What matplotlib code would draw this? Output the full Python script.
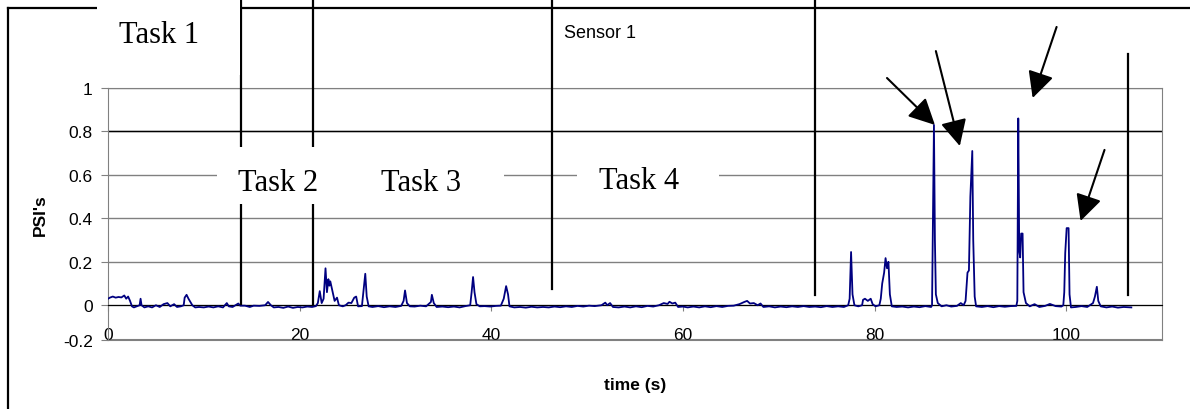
# Sensor 1 pressure trace with task markers
import matplotlib
matplotlib.use("Agg")
import matplotlib.pyplot as plt
from matplotlib.lines import Line2D
from matplotlib.patches import Rectangle

plt.rcParams['font.family'] = ['Liberation Sans', 'DejaVu Sans']
plt.rcParams['axes.unicode_minus'] = False

# trace (time in s, pressure in PSI)
time_s = [0, 0.2, 0.5, 0.8, 1.1, 1.4, 1.7, 1.9, 2.1, 2.3, 2.5, 2.7,
          3.0, 3.3, 3.4, 3.5, 3.8, 4.2, 4.6, 5.0, 5.4, 5.8, 6.2, 6.5, 6.9, 7.2, 7.6, 7.9,
          8.0, 8.2, 8.4, 8.6, 8.8, 9.1, 9.5, 10.0, 10.5, 11.0, 11.5, 12.0, 12.4, 12.6, 13.0,
          13.6, 13.8, 14.3, 14.8, 15.2, 15.8, 16.4, 16.7, 17.0, 17.3, 17.8, 18.3, 18.8, 19.3,
          19.8, 20.3, 20.8, 21.3, 21.7, 21.9, 22.1, 22.3, 22.5, 22.7, 22.85, 23.0, 23.1, 23.2,
          23.35, 23.5, 23.65, 23.9, 24.1, 24.5, 24.8, 25.1, 25.4, 25.7, 25.9, 26.1, 26.5,
          26.85, 27.0, 27.2, 27.6, 28.2, 28.8, 29.4, 30.0, 30.6, 30.85, 31.0, 31.2, 31.5,
          32.0, 32.6, 33.2, 33.7, 33.8, 34.0, 34.3, 34.9, 35.5, 36.1, 36.7, 37.3, 37.8,
          37.95, 38.1, 38.25, 38.45, 38.8, 39.3, 39.9, 40.5, 41.0, 41.3, 41.55, 41.75, 41.9,
          42.4, 43.0, 43.6, 44.2, 44.8, 45.4, 46.0, 46.6, 47.2, 47.8, 48.4, 49.0, 49.6, 50.2,
          50.8, 51.5, 51.9, 52.1, 52.4, 52.7, 53.3, 53.9, 54.5, 55.1, 55.7, 56.3, 56.9, 57.5,
          58.0, 58.4, 58.6, 58.9, 59.2, 59.5, 60.0, 60.5, 61.1, 61.7, 62.3, 62.9, 63.5, 64.1,
          64.7, 65.3, 65.9, 66.4, 66.7, 67.0, 67.4, 67.8, 68.1, 68.4, 69.0, 69.6, 70.2, 70.8,
          71.4, 72.0, 72.6, 73.2, 73.8, 74.4, 75.0, 75.6, 76.2, 76.8, 77.25, 77.4, 77.55,
          77.7, 77.9, 78.3, 78.7, 78.8, 79.0, 79.3, 79.6, 79.8, 80.1, 80.5, 80.65, 80.8, 81.0,
          81.15, 81.3, 81.45, 81.6, 81.8, 82.3, 82.9, 83.5, 84.1, 84.7, 85.3, 85.9, 86.0,
          86.1, 86.2, 86.3, 86.4, 86.6, 87.0, 87.5, 88.0, 88.6, 89.0, 89.3, 89.5, 89.7, 89.85,
          90.0, 90.2, 90.3, 90.45, 90.6, 91.2, 91.8, 92.4, 93.0, 93.6, 94.2, 94.8, 94.9, 95.0,
          95.1, 95.2, 95.3, 95.45, 95.55, 95.8, 96.2, 96.7, 97.2, 97.8, 98.3, 98.9, 99.5, 99.7,
          99.8, 99.9, 100.05, 100.25, 100.35, 100.5, 101.0, 101.6, 102.2, 102.8, 103.0, 103.2,
          103.35, 103.6, 104.2, 104.8, 105.4, 106.0, 106.8]
psi = [0.03, 0.035, 0.04, 0.035, 0.038, 0.036, 0.045, 0.03, 0.04, 0.02, -0.005, -0.01,
       -0.005, 0.0, 0.03, 0.0, -0.01, -0.005, -0.01, 0.0, -0.008, 0.005, 0.01, -0.005, 0.005, -0.008, -0.005, 0.0,
       0.035, 0.048, 0.03, 0.015, 0.0, -0.01, -0.008, -0.01, -0.006, -0.01, -0.005, -0.01, 0.01, -0.005, -0.008,
       0.008, -0.002, -0.002, -0.008, -0.002, -0.003, 0.0, 0.015, 0.0, -0.01, -0.008, -0.012, -0.006, -0.012,
       -0.008, -0.01, -0.006, -0.008, -0.004, 0.01, 0.065, 0.01, 0.03, 0.17, 0.06, 0.12, 0.09, 0.11,
       0.08, 0.05, 0.02, 0.035, 0.0, -0.005, 0.0, 0.012, 0.01, 0.035, 0.04, -0.005, -0.004,
       0.145, 0.04, -0.005, -0.008, -0.004, -0.009, -0.005, -0.008, -0.003, 0.02, 0.068, 0.01, -0.005,
       -0.006, -0.002, -0.005, 0.015, 0.048, 0.01, -0.008, -0.006, -0.009, -0.006, -0.01, -0.004, 0.0,
       0.06, 0.13, 0.06, 0.005, -0.005, -0.004, -0.006, -0.003, -0.002, 0.03, 0.088, 0.05, -0.005,
       -0.01, -0.008, -0.011, -0.007, -0.01, -0.008, -0.01, -0.006, -0.009, -0.005, -0.008, -0.003, -0.006, -0.002,
       -0.004, 0.0, 0.012, 0.0, 0.01, -0.008, -0.01, -0.006, -0.01, -0.005, -0.009, -0.003, -0.006, 0.0,
       0.01, 0.006, 0.016, 0.008, 0.012, -0.008, -0.006, -0.01, -0.006, -0.01, -0.005, -0.009, -0.004, -0.008,
       -0.003, -0.002, 0.005, 0.015, 0.02, 0.008, 0.01, 0.0, 0.008, -0.008, -0.005, -0.01, -0.006, -0.009,
       -0.005, -0.008, -0.004, -0.008, -0.006, -0.009, -0.004, -0.008, -0.005, -0.008, 0.0, 0.03, 0.245,
       0.05, 0.0, -0.005, 0.0, 0.025, 0.03, 0.02, 0.03, 0.005, -0.005, 0.0, 0.03, 0.1, 0.15,
       0.217, 0.17, 0.2, 0.05, -0.005, -0.008, -0.006, -0.01, -0.006, -0.009, -0.004, -0.008, 0.0,
       0.4, 0.83, 0.3, 0.05, 0.01, -0.005, 0.0, -0.006, -0.003, 0.01, 0.0, 0.02, 0.15, 0.16,
       0.5, 0.71, 0.3, 0.04, -0.005, -0.008, -0.004, -0.009, -0.004, -0.007, -0.004, -0.003, 0.02, 0.86,
       0.25, 0.22, 0.33, 0.33, 0.06, 0.01, -0.005, 0.005, -0.008, -0.003, 0.006, -0.004, -0.006, 0.0,
       0.06, 0.24, 0.355, 0.355, 0.05, -0.01, -0.008, -0.004, -0.008, 0.01, 0.04, 0.085,
       0.02, -0.005, -0.01, -0.006, -0.011, -0.008, -0.01]

x_ticks = [0, 20, 40, 60, 80, 100]
# the bottom label sits on the plot edge, as in the source chart
y_bottom = -0.16
y_ticks = [y_bottom, 0, 0.2, 0.4, 0.6, 0.8, 1]
y_tick_labels = ["-0.2", "0", "0.2", "0.4", "0.6", "0.8", "1"]

# task boundaries (s) and how far each marker line reaches
task_edges = [13.9, 21.4, 46.3, 73.8, 106.5]
edge_top = [1.45, 1.45, 1.45, 1.45, 1.157]
edge_bottom = [0.005, 0.005, 0.075, 0.047, 0.047]

task_names = ["Task 1", "Task 2", "Task 3", "Task 4"]
task_label_x = [5.3, 17.7, 32.7, 55.4]
task_label_y = [1.212, 0.530, 0.530, 0.539]

# arrows pointing at the big peaks: tail -> tip
arrow_tails = [(81.3, 1.046), (86.4, 1.170), (99.0, 1.281), (104.0, 0.715)]
arrow_tips = [(86.3, 0.830), (88.9, 0.733), (96.5, 0.954), (101.5, 0.388)]

W, H = 1190, 410
fig = plt.figure(figsize=(W / 100, H / 100), dpi=100)
ax = fig.add_axes([108 / W, 1 - 341 / H, (1162 - 108) / W, (341 - 89) / H])

# outer frame (cropped box), behind everything else
fig.add_artist(Line2D([8 / W, 8 / W], [0, 1 - 9 / H], color="black", lw=1.6, zorder=-1))
fig.add_artist(Line2D([8 / W, 1], [1 - 9 / H, 1 - 9 / H], color="black", lw=1.6, zorder=-1))

ax.set_xlim(0, 110)
ax.set_ylim(y_bottom, 1)

grey = "#808080"
for side in ["top", "right", "left"]:
    ax.spines[side].set_color(grey)
ax.spines["bottom"].set_position(("data", 0))
ax.spines["bottom"].set_color("black")
ax.axhline(y_bottom, color=grey, lw=1.5, clip_on=False, zorder=1)

ax.set_yticks(y_ticks)
ax.set_yticklabels(y_tick_labels)
ax.set_xticks(x_ticks)
ax.yaxis.grid(True, color=grey, lw=1)
ax.axhline(0.8, color="black", lw=1, zorder=2)
ax.tick_params(axis="y", direction="out", length=5, pad=6, color=grey, labelsize=12.5)
ax.tick_params(axis="x", direction="out", length=4, pad=12, color=grey, labelsize=12.5)

ax.plot(time_s, psi, color="#000080", lw=1.3, zorder=3)

ax.set_xlabel("time (s)", fontweight="bold", fontsize=12.5, labelpad=25)
ax.set_ylabel("PSI's", fontweight="bold", fontsize=12.5, labelpad=11)
fig.text(600 / W, 1 - 33 / H, "Sensor 1", ha="center", va="center", fontsize=13)

# task divider lines
for t, top, bot in zip(task_edges, edge_top, edge_bottom):
    ax.plot([t, t], [top, bot], color="black", lw=1.6, clip_on=False, zorder=4)

# white boxes behind the task labels
ax.add_patch(Rectangle((-1.15, 1.06), 14.9, 0.5, facecolor="white", edgecolor="none",
                       clip_on=False, zorder=5))
ax.add_patch(Rectangle((11.37, 0.466), 30.0, 0.262, facecolor="white", edgecolor="none",
                       clip_on=False, zorder=5))
ax.add_patch(Rectangle((48.9, 0.466), 14.9, 0.253, facecolor="white", edgecolor="none",
                       clip_on=False, zorder=5))

for name, tx, ty in zip(task_names, task_label_x, task_label_y):
    ax.text(tx, ty, name, ha="center", va="baseline", fontsize=22,
            family=["Liberation Serif", "DejaVu Serif"], zorder=6, clip_on=False)

for tail, tip in zip(arrow_tails, arrow_tips):
    ax.annotate("", xy=tip, xytext=tail, annotation_clip=False,
                arrowprops=dict(arrowstyle="-|>", mutation_scale=40, lw=1.5,
                                color="black", shrinkA=0, shrinkB=0), zorder=6)

fig.savefig("out.png", dpi=100)
